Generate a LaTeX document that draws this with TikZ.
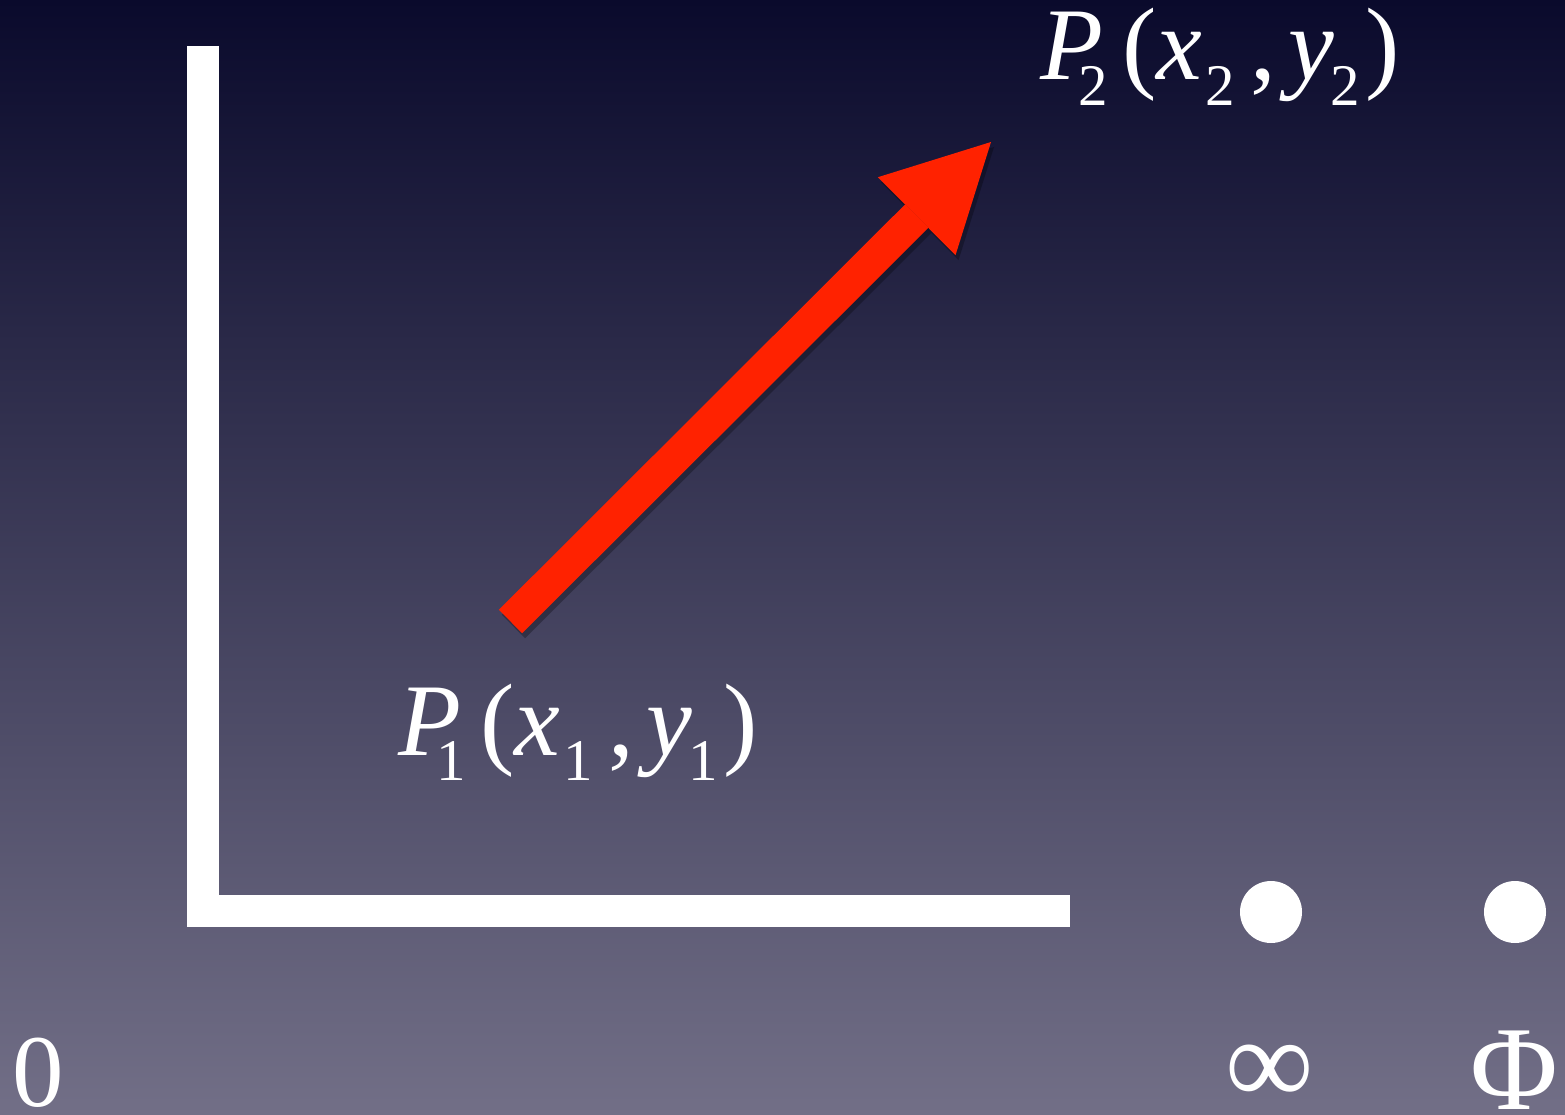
\documentclass[tikz,border=0pt]{standalone}
\usepackage{fontspec}
\setmainfont{Liberation Serif}
\usetikzlibrary{arrows.meta}
\definecolor{bgTop}{HTML}{0A0A2C}
\definecolor{bgMid}{HTML}{3D3C5A}
\definecolor{bgBot}{HTML}{726F87}
\definecolor{vecRed}{HTML}{FF2200}
% subscript digit, lowered like the slide's labels
\newcommand{\lbsub}[1]{\raisebox{-0.25em}{\fontsize{59}{59}\selectfont #1}}
\newcommand{\ptlabel}[1]{\textit{P}\kern-0.24em\lbsub{#1}\kern0.14em(\textit{x}\kern0.03em\lbsub{#1}\kern0.15em,\kern0.12em\textit{y}\kern-0.04em\lbsub{#1}\kern0.06em)}
\tikzset{
  font=\fontsize{103}{103}\selectfont,
  lbl/.style   ={text=white, inner sep=0pt, anchor=base west},
  sym/.style   ={text=white, inner sep=0pt},
  axis/.style  ={draw=white, line width=32pt, line join=miter},
  vec/.style   ={draw=vecRed, line width=33pt, -{Triangle[length=105pt,width=110pt,line width=0pt]}},
  vecshade/.style={vec, draw=black, opacity=0.28},
  dot/.style   ={circle, fill=white, minimum size=62pt, inner sep=0pt},
}

\begin{document}
\begin{tikzpicture}[x=1pt, y=-1pt]
  \useasboundingbox (0,0) rectangle (1565,1115);
  \shade[top color=bgTop, middle color=bgMid, bottom color=bgBot] (0,0) rectangle (1565,1115);

  % axes
  \coordinate (ytop)   at (203,46);
  \coordinate (origin) at (203,911);
  \coordinate (xend)   at (1070,911);
  \draw[axis] (ytop) -- (origin) -- (xend);

  % vector P1 -> P2, with a soft shadow under it
  \coordinate (tail) at (510.5,621.5);
  \coordinate (tip)  at (991,142);
  \draw[vecshade, transform canvas={shift={(3pt,-5pt)}}] (tail) -- (tip);
  \draw[vec] (tail) -- (tip);

  \node[lbl] (p1) at (398,755)  {\ptlabel{1}};
  \node[lbl] (p2) at (1040,80)  {\ptlabel{2}};

  % bottom row
  \node[dot] (infdot) at (1271,912) {};
  \node[dot] (phidot) at (1515,912) {};
  \node[lbl] (zero) at (12,1106) {0};
  \node[sym, font=\fontsize{124}{124}\selectfont] (inf) at (1270,1075) {∞};
  \node[sym, font=\fontsize{120}{120}\selectfont] (phi) at (1514,1070) {Φ};
\end{tikzpicture}
\end{document}
